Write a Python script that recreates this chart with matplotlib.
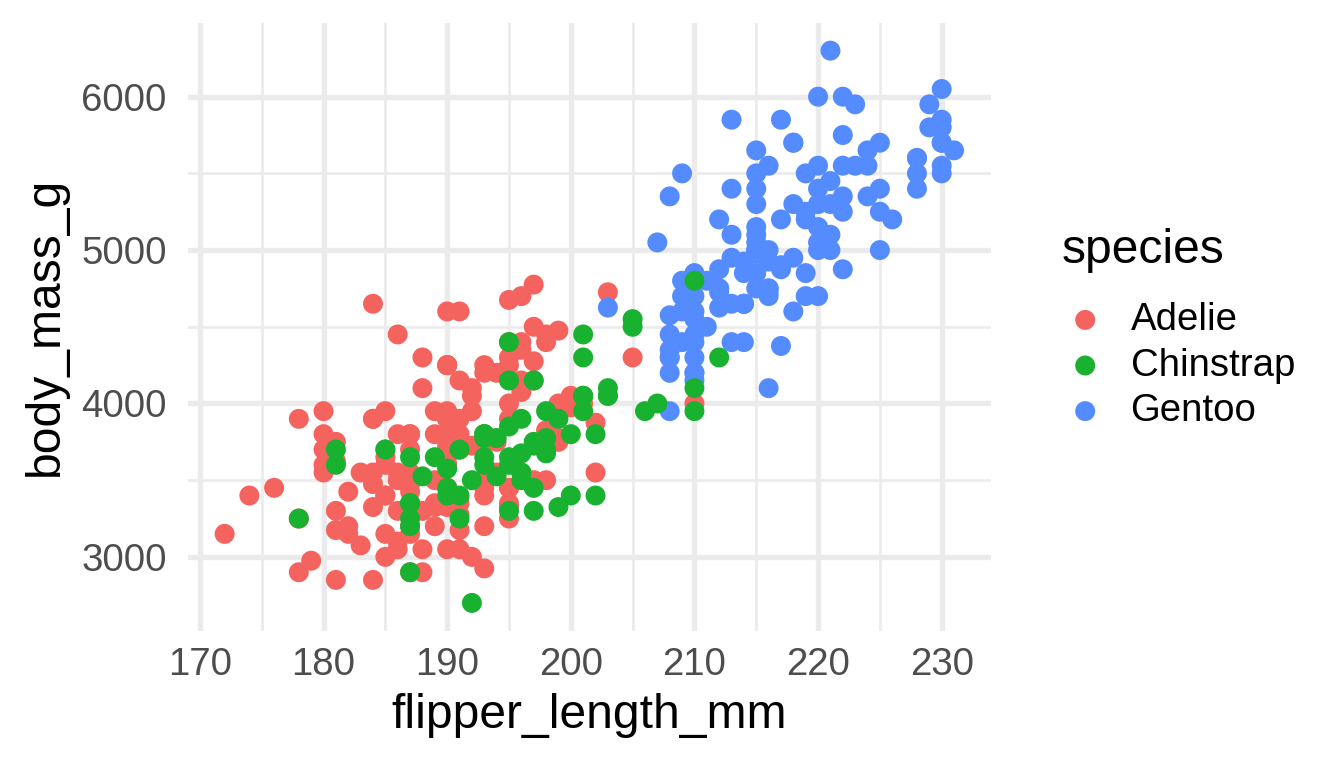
import matplotlib
matplotlib.use('Agg')
import matplotlib.pyplot as plt

plt.rcParams['font.family'] = ['Liberation Sans', 'DejaVu Sans']

species = ['Adelie', 'Chinstrap', 'Gentoo']
colors = ['#F5635E', '#18B130', '#548BFF']
# rows come Adelie, Gentoo, Chinstrap in the data, so Chinstrap is painted last
draw_layer = [3, 5, 4]

adelie_flipper = [181, 186, 195, 193, 190, 181, 195, 193, 190, 186, 180, 182, 191, 198, 185, 195, 197, 184, 194,
                  174, 180, 189, 185, 180, 187, 183, 187, 172, 180, 178, 178, 188, 184, 195, 196, 190, 180, 181,
                  184, 182, 195, 186, 196, 185, 190, 182, 179, 190, 191, 186, 188, 190, 200, 187, 191, 186, 193,
                  181, 194, 185, 195, 185, 192, 184, 192, 195, 188, 190, 198, 190, 190, 196, 197, 190, 195, 191,
                  184, 187, 195, 189, 196, 187, 193, 191, 194, 190, 189, 189, 190, 202, 205, 185, 186, 187, 208,
                  190, 196, 178, 192, 192, 203, 183, 190, 193, 184, 199, 190, 181, 197, 198, 191, 193, 197, 191,
                  196, 188, 199, 189, 189, 187, 198, 176, 202, 186, 199, 191, 195, 191, 210, 190, 197, 193, 199,
                  187, 190, 191, 200, 185, 193, 193, 187, 188, 190, 192, 185, 190, 184, 195, 193, 187, 201]
adelie_mass = [3750, 3800, 3250, 3450, 3650, 3625, 4675, 3475, 4250, 3300, 3700, 3200, 3800, 4400, 3700, 3450,
               4500, 3325, 4200, 3400, 3600, 3800, 3950, 3800, 3800, 3550, 3200, 3150, 3950, 3250, 3900, 3300,
               3900, 3325, 4150, 3950, 3550, 3300, 4650, 3150, 3900, 3100, 4400, 3000, 4600, 3425, 2975, 3450,
               4150, 3500, 4300, 3450, 4050, 2900, 3700, 3550, 3800, 2850, 3750, 3150, 4400, 3600, 4050, 2850,
               3950, 3350, 4100, 3050, 4450, 3600, 3900, 3550, 4150, 3700, 4250, 3700, 3900, 3550, 4000, 3200,
               4700, 3800, 4200, 3350, 3550, 3800, 3500, 3950, 3600, 3550, 4300, 3400, 4450, 3300, 4300, 3700,
               4350, 2900, 4100, 3725, 4725, 3075, 4250, 2925, 3550, 3750, 3900, 3175, 4775, 3825, 4600, 3200,
               4275, 3900, 4075, 2900, 3775, 3350, 3325, 3150, 3500, 3450, 3875, 3050, 4000, 3275, 4300, 3050,
               4000, 3325, 3500, 3500, 4475, 3425, 3900, 3175, 3975, 3400, 4250, 3400, 3475, 3050, 3725, 3000,
               3650, 4250, 3475, 3450, 3750, 3700, 4000]

chinstrap_flipper = [192, 196, 193, 188, 197, 198, 178, 197, 195, 198, 193, 194, 185, 201, 190, 201, 197, 181,
                     190, 195, 181, 191, 187, 193, 195, 197, 200, 200, 191, 205, 187, 201, 187, 203, 195, 199,
                     195, 210, 192, 205, 210, 187, 196, 196, 196, 201, 190, 212, 187, 198, 199, 201, 193, 203,
                     187, 197, 191, 203, 202, 194, 206, 189, 195, 207, 202, 193, 210, 198]
chinstrap_mass = [3500, 3900, 3650, 3525, 3725, 3950, 3250, 3750, 4150, 3700, 3800, 3775, 3700, 4050, 3575, 4050,
                  3300, 3700, 3450, 4400, 3600, 3400, 2900, 3800, 3300, 4150, 3400, 3800, 3700, 4550, 3200, 4300,
                  3350, 4100, 3600, 3900, 3850, 4800, 2700, 4500, 3950, 3650, 3550, 3500, 3675, 4450, 3400, 4300,
                  3250, 3675, 3325, 3950, 3600, 4050, 3350, 3450, 3250, 4050, 3800, 3525, 3950, 3650, 3650, 4000,
                  3400, 3775, 4100, 3775]

gentoo_flipper = [211, 230, 210, 218, 215, 210, 211, 219, 209, 215, 214, 216, 214, 213, 210, 217, 210, 221, 209,
                  222, 218, 215, 213, 215, 215, 215, 216, 215, 210, 220, 222, 209, 207, 230, 220, 220, 213, 219,
                  208, 208, 208, 225, 210, 216, 222, 217, 210, 225, 213, 215, 210, 220, 210, 225, 217, 220, 208,
                  220, 208, 224, 208, 221, 214, 231, 219, 230, 214, 229, 220, 223, 216, 221, 221, 217, 216, 230,
                  209, 220, 215, 223, 212, 221, 212, 224, 212, 228, 218, 218, 212, 230, 218, 228, 212, 224, 214,
                  226, 216, 222, 203, 225, 219, 228, 215, 228, 216, 215, 210, 219, 208, 209, 216, 229, 213, 230,
                  217, 230, 217, 222, 214, 215, 222, 212, 213]
gentoo_mass = [4500, 5700, 4450, 5700, 5400, 4550, 4800, 5200, 4400, 5150, 4650, 5550, 4650, 5850, 4200, 5850,
               4150, 6300, 4800, 5350, 5700, 5000, 4400, 5050, 5000, 5100, 4100, 5650, 4600, 5550, 5250, 4700,
               5050, 6050, 5150, 5400, 4950, 5250, 4350, 5350, 3950, 5700, 4300, 4750, 5550, 4900, 4200, 5400,
               5100, 5300, 4850, 5300, 4400, 5000, 4900, 5050, 4300, 5000, 4450, 5550, 4200, 5300, 4400, 5650,
               4700, 5700, 4650, 5800, 4700, 5550, 4750, 5000, 5100, 5200, 4700, 5800, 4600, 6000, 4750, 5950,
               4625, 5450, 4725, 5350, 4750, 5600, 4600, 5300, 4875, 5550, 4950, 5400, 4750, 5650, 4850, 5200,
               4925, 4875, 4625, 5250, 4850, 5600, 4975, 5500, 4725, 5500, 4700, 5500, 4575, 5500, 5000, 5950,
               4650, 5500, 4375, 5850, 4875, 6000, 4925, 4850, 5750, 5200, 5400]

x_ticks = [170, 180, 190, 200, 210, 220, 230]
x_minor = [175, 185, 195, 205, 215, 225]
y_ticks = [3000, 4000, 5000, 6000]
y_minor = [3500, 4500, 5500]

flippers = [adelie_flipper, chinstrap_flipper, gentoo_flipper]
masses = [adelie_mass, chinstrap_mass, gentoo_mass]

fig = plt.figure(figsize=(7, 4), dpi=192)
ax = fig.add_axes([0.140, 0.179, 0.597, 0.791])

for name, fx, my, c, z in zip(species, flippers, masses, colors, draw_layer):
    ax.scatter(fx, my, s=56, color=c, edgecolors='none', label=name, zorder=z)

# ggplot-like limits: 5% expansion of the data range
all_x = adelie_flipper + chinstrap_flipper + gentoo_flipper
all_y = adelie_mass + chinstrap_mass + gentoo_mass
dx = (max(all_x) - min(all_x)) * 0.05
dy = (max(all_y) - min(all_y)) * 0.05
ax.set_xlim(min(all_x) - dx, max(all_x) + dx)
ax.set_ylim(min(all_y) - dy, max(all_y) + dy)

ax.set_xticks(x_ticks)
ax.set_xticks(x_minor, minor=True)
ax.set_yticks(y_ticks)
ax.set_yticks(y_minor, minor=True)
ax.grid(which='major', color='#EBEBEB', linewidth=2.0, zorder=0)
ax.grid(which='minor', color='#EBEBEB', linewidth=1.0, zorder=0)
ax.set_axisbelow(True)
for s in ax.spines.values():
    s.set_visible(False)
ax.tick_params(which='both', length=0)
ax.tick_params(axis='x', labelsize=14.4, labelcolor='#4D4D4D', pad=6)
ax.tick_params(axis='y', labelsize=14.4, labelcolor='#4D4D4D', pad=8)

ax.set_xlabel('flipper_length_mm', fontsize=18, labelpad=4)
ax.set_ylabel('body_mass_g', fontsize=18, labelpad=5)

# legend title placed by hand, entries through the legend
fig.text(1062 / 1344, 1 - 263 / 768, 'species', fontsize=18, ha='left', va='baseline')
leg = ax.legend(loc='upper left', bbox_to_anchor=(1066 / 1344, 1 - 302 / 768),
                bbox_transform=fig.transFigure, frameon=False,
                fontsize=14.4, handletextpad=0.68, labelspacing=0.25,
                borderaxespad=0, borderpad=0, handlelength=1.0)

fig.savefig('out.png', dpi=192)
